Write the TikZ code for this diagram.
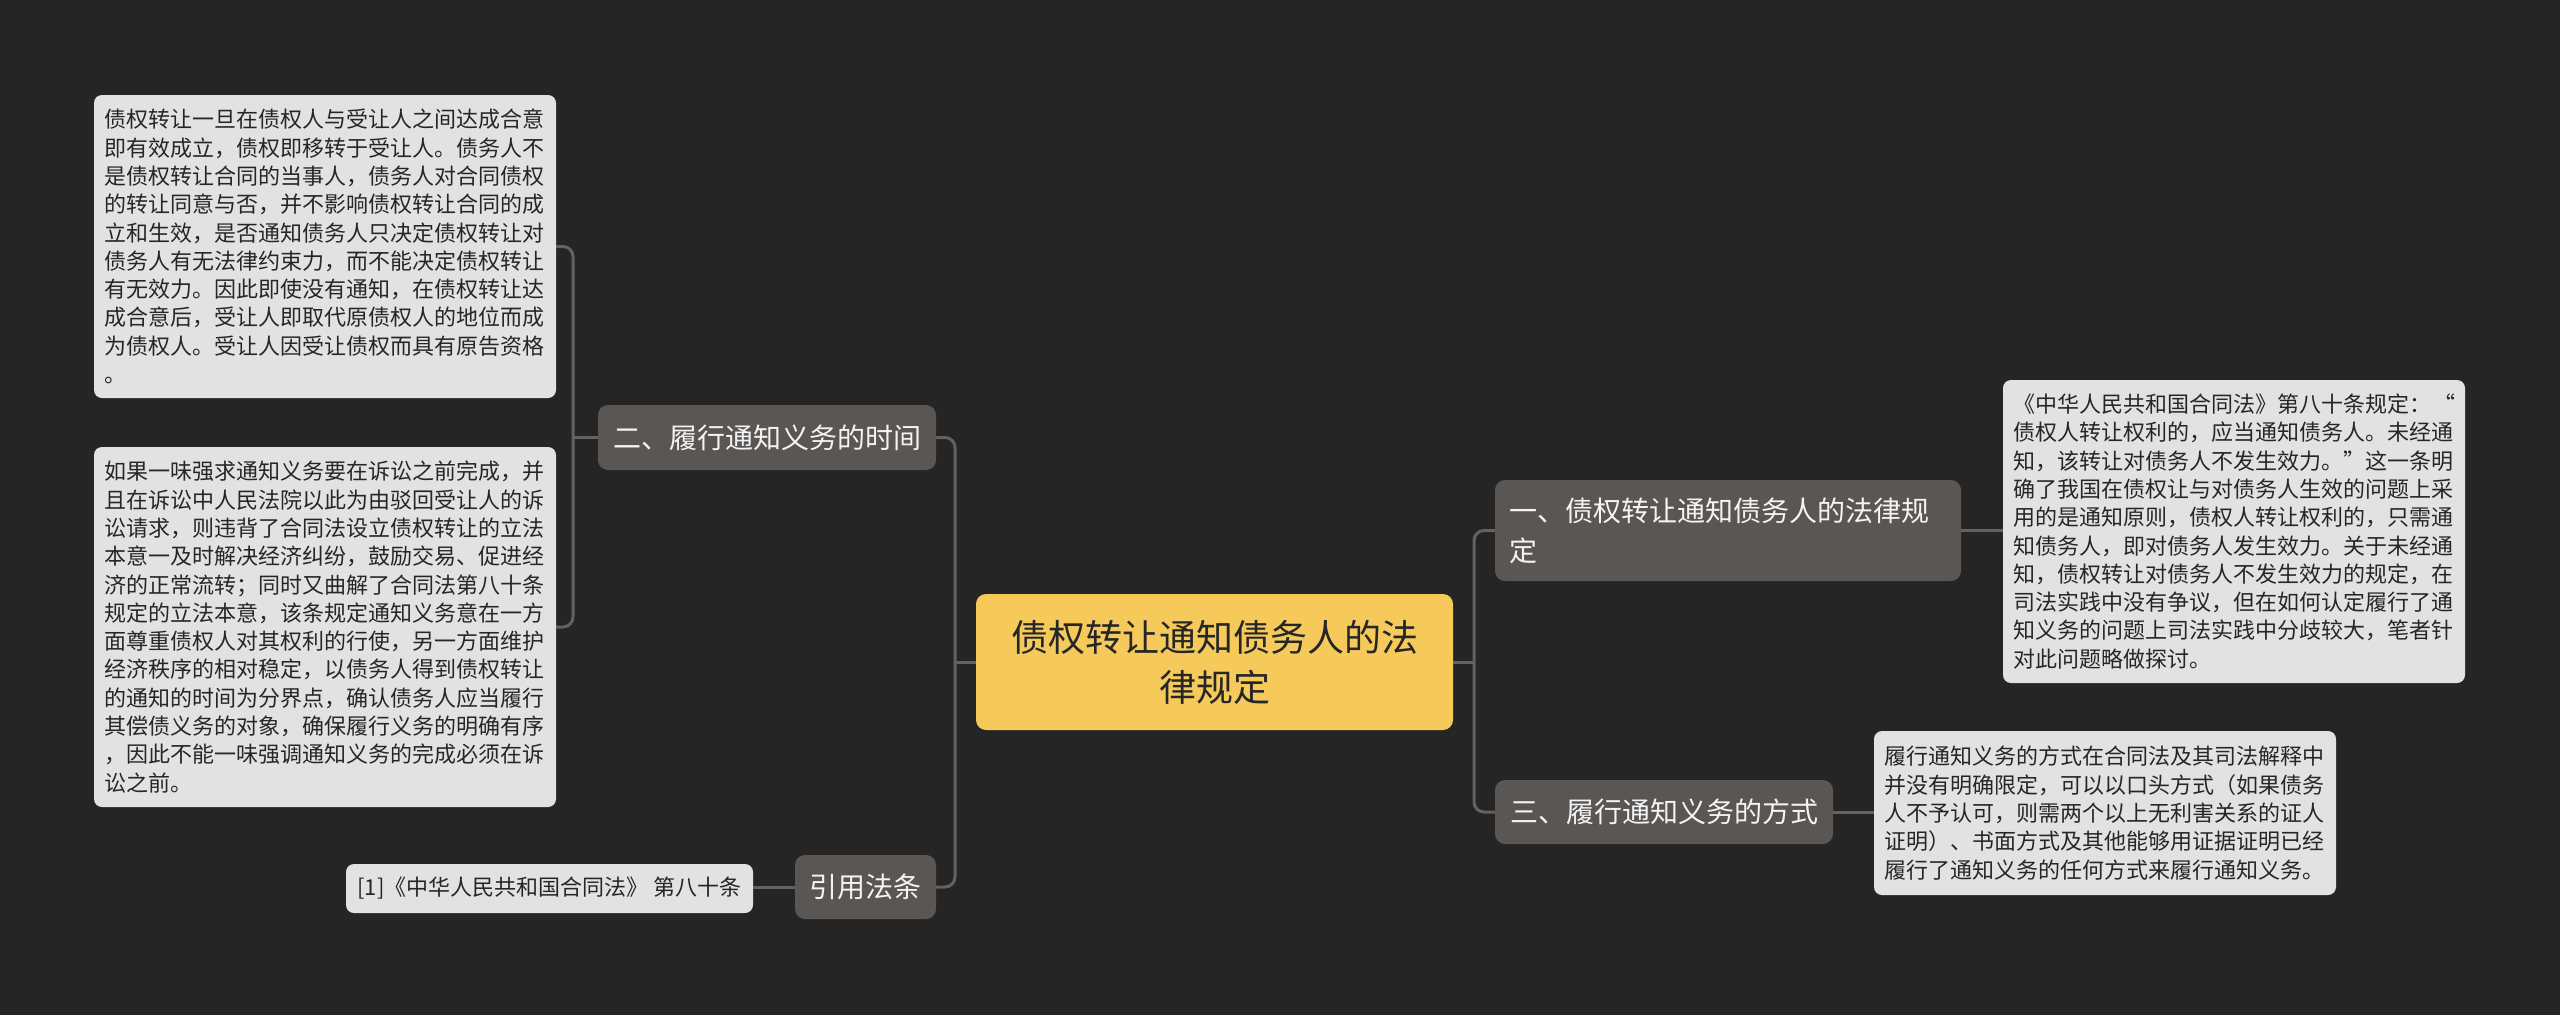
\documentclass[tikz,border=0pt]{standalone}
\usepackage{fontspec}
\setmainfont{Noto Sans CJK SC}
\definecolor{bgc}{HTML}{252525}
\definecolor{leafc}{HTML}{E2E2E2}
\definecolor{leaftext}{HTML}{262626}
\definecolor{topicc}{HTML}{5A5654}
\definecolor{topictext}{HTML}{F4F4F4}
\definecolor{rootc}{HTML}{F5CA5A}
\definecolor{roottext}{HTML}{262626}
\definecolor{linec}{HTML}{626262}
\tikzset{
  leaf/.style={fill=leafc, rounded corners=8pt, text=leaftext,
    font=\fontsize{22}{28.3}\selectfont, align=left, inner xsep=10pt,
    inner ysep=0pt, text width=442pt, anchor=center},
  topic/.style={fill=topicc, rounded corners=10pt, text=topictext,
    font=\fontsize{28}{40}\selectfont, inner xsep=14pt, inner ysep=0pt, anchor=center},
  rootnode/.style={fill=rootc, rounded corners=10pt, text=roottext,
    font=\fontsize{37}{50}\selectfont, align=center, inner sep=0pt, anchor=center},
  conn/.style={draw=linec, line width=3pt, rounded corners=10pt},
}
\begin{document}
\begin{tikzpicture}[x=1pt,y=-1pt]
\path[fill=bgc, use as bounding box] (0,0) rectangle (2560,1015);

% root
\node[rootnode, minimum width=477pt, minimum height=136pt] (root) at (1214.5,662)
  {债权转让通知债务人的法\\律规定};

% left topics
\node[topic, minimum width=338pt, minimum height=65pt] (n2) at (767,437.5) {二、履行通知义务的时间};
\node[topic, minimum width=141pt, minimum height=64pt] (nref) at (865.5,887) {引用法条};

% right topics
\node[topic, minimum width=466pt, minimum height=101pt, text width=438pt, align=left] (n1) at (1728,530.5)
  {一、债权转让通知债务人的法律规\\定};
\node[topic, minimum width=338pt, minimum height=64pt] (n3) at (1664,812) {三、履行通知义务的方式};

% leaves
\node[leaf, minimum height=303pt] (L1) at (325,246.5) {债权转让一旦在债权人与受让人之间达成合意\\
即有效成立，债权即移转于受让人。债务人不\\
是债权转让合同的当事人，债务人对合同债权\\
的转让同意与否，并不影响债权转让合同的成\\
立和生效，是否通知债务人只决定债权转让对\\
债务人有无法律约束力，而不能决定债权转让\\
有无效力。因此即使没有通知，在债权转让达\\
成合意后，受让人即取代原债权人的地位而成\\
为债权人。受让人因受让债权而具有原告资格\\
。};

\node[leaf, minimum height=360pt] (L2) at (325,627) {如果一味强求通知义务要在诉讼之前完成，并\\
且在诉讼中人民法院以此为由驳回受让人的诉\\
讼请求，则违背了合同法设立债权转让的立法\\
本意一及时解决经济纠纷，鼓励交易、促进经\\
济的正常流转；同时又曲解了合同法第八十条\\
规定的立法本意，该条规定通知义务意在一方\\
面尊重债权人对其权利的行使，另一方面维护\\
经济秩序的相对稳定，以债务人得到债权转让\\
的通知的时间为分界点，确认债务人应当履行\\
其偿债义务的对象，确保履行义务的明确有序\\
，因此不能一味强调通知义务的完成必须在诉\\
讼之前。};

\node[leaf, text width=, align=center, minimum width=407pt, minimum height=49pt] (Lref) at (549.5,888.5)
  {[1]《中华人民共和国合同法》 第八十条};

\node[leaf, minimum height=303pt] (R1) at (2234,531.5) {《中华人民共和国合同法》第八十条规定：\hfill “\\
债权人转让权利的，应当通知债务人。未经通\\
知，该转让对债务人不发生效力。”这一条明\\
确了我国在债权让与对债务人生效的问题上采\\
用的是通知原则，债权人转让权利的，只需通\\
知债务人，即对债务人发生效力。关于未经通\\
知，债权转让对债务人不发生效力的规定，在\\
司法实践中没有争议，但在如何认定履行了通\\
知义务的问题上司法实践中分歧较大，笔者针\\
对此问题略做探讨。};

\node[leaf, minimum height=164pt] (R3) at (2105,813) {履行通知义务的方式在合同法及其司法解释中\\
并没有明确限定，可以以口头方式（如果债务\\
人不予认可，则需两个以上无利害关系的证人\\
证明）、书面方式及其他能够用证据证明已经\\
履行了通知义务的任何方式来履行通知义务。};

% connectors
\coordinate (tL) at (955,662);
\coordinate (tA) at (573,437.5);
\coordinate (tR) at (1474,662);

\draw[conn] (root.west) -- (tL);
\draw[conn] (n2.east) -| (tL) |- (nref.east);
\draw[conn] (n2.west) -- (tA);
\draw[conn] (L1.east) -| (tA) |- (L2.east);
\draw[conn] (nref.west) -- (nref.west -| Lref.east);

\draw[conn] (root.east) -- (tR);
\draw[conn] (n1.west) -| (tR) |- (n3.west);
\draw[conn] (n1.east) -- (n1.east -| R1.west);
\draw[conn] (n3.east) -- (n3.east -| R3.west);
\end{tikzpicture}
\end{document}
